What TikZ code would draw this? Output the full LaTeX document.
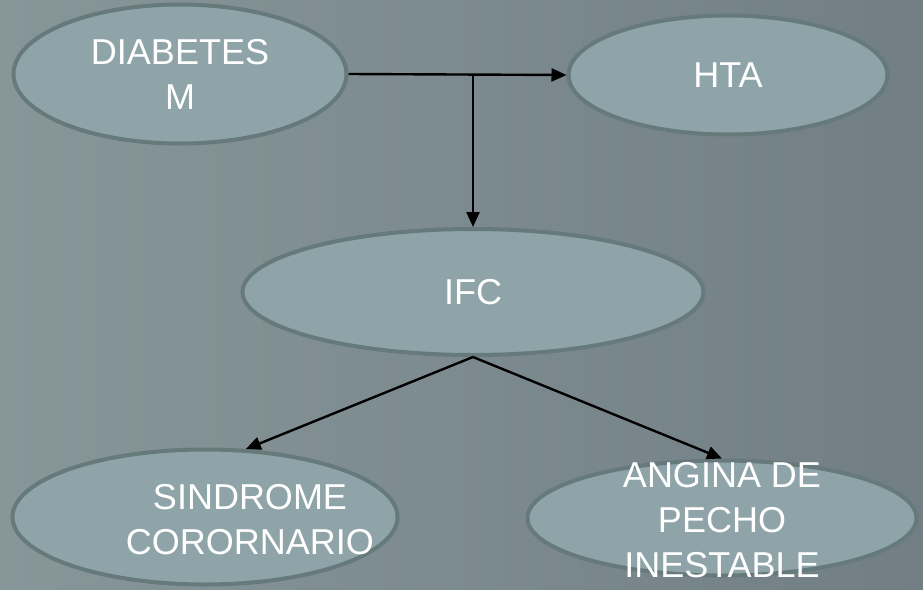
\documentclass[tikz,border=0pt]{standalone}
\usepackage{fontspec}
\setmainfont{Liberation Sans}
\usetikzlibrary{shapes.geometric,arrows.meta}
\definecolor{bgA}{HTML}{879699}
\definecolor{bgB}{HTML}{717F85}
\definecolor{efill}{HTML}{8FA4A8}
\definecolor{edraw}{HTML}{66797B}
\tikzset{
  oval/.style={ellipse, fill=efill, draw=edraw, line width=4pt, inner sep=0pt,
    text=white, align=center, font=\fontsize{36}{45}\selectfont},
  lbl/.style={text=white, align=center, font=\fontsize{36}{45}\selectfont},
  conn/.style={line width=2.4pt, -{Triangle[length=15pt,width=13pt]}}
}
\begin{document}
\begin{tikzpicture}[x=1pt,y=-1pt]
\useasboundingbox (0,0) rectangle (923,589);
\shade[left color=bgA, right color=bgB] (0,0) rectangle (923,589);

\node[oval, minimum width=333pt, minimum height=139pt] (dm) at (180,74) {DIABETES\\M};
\node[oval, minimum width=319pt, minimum height=119pt] (hta) at (728,75) {HTA};
\node[oval, minimum width=461pt, minimum height=126pt] (ifc) at (473,292) {IFC};
\node[oval, minimum width=385pt, minimum height=135pt] (sind) at (205,517) {};
\node[lbl] (sindt) at (250,520) {SINDROME\\CORORNARIO};
\node[oval, minimum width=389pt, minimum height=115pt] (ang) at (722,518) {};
\node[lbl] (angt) at (722,520) {ANGINA DE\\PECHO\\INESTABLE};

\coordinate (j) at (473,75);
\draw[conn] (dm.east) -- (hta.west);
\draw[conn] (j) -- (ifc.north);
\draw[conn] (ifc.south) -- (sind.59);
\draw[conn] (ifc.south) -- (ang.north);
\end{tikzpicture}
\end{document}
